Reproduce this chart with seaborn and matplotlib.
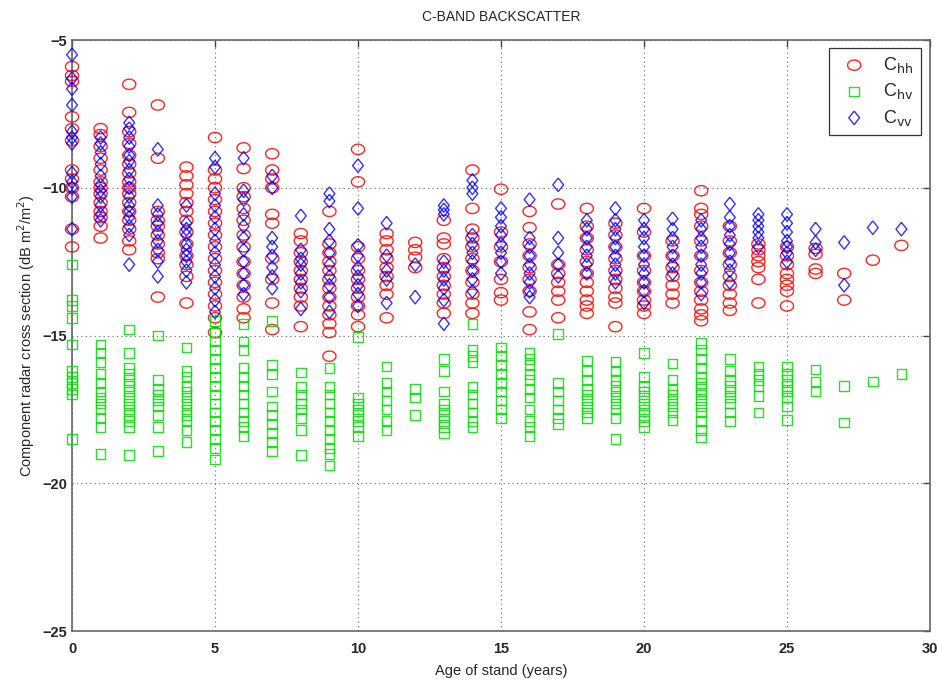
import numpy as np
import pandas as pd
import seaborn as sns
import matplotlib
matplotlib.use("Agg")
import matplotlib.pyplot as plt

sns.set_style("white")
plt.rcParams['font.family'] = ['Liberation Sans', 'DejaVu Sans']

# stand ages (years) and readings per age, dB m^2/m^2
ages = list(range(30))

hh = [
    [-5.9, -6.2, -6.4, -7.6, -8.0, -8.4, -9.4, -9.7, -10.0, -10.3, -11.4, -12.0],
    [-8.0, -8.2, -8.6, -9.0, -9.4, -9.8, -10.0, -10.2, -10.5, -10.8, -11.0, -11.3, -11.7],
    [-6.5, -7.45, -8.1, -8.5, -8.9, -9.2, -9.5, -9.8, -10.0, -10.2, -10.5, -10.8, -11.1, -11.4, -11.8, -12.1],
    [-7.2, -9.0, -10.8, -11.1, -11.3, -11.6, -11.9, -12.2, -12.4, -13.7],
    [-9.3, -9.6, -9.9, -10.2, -10.5, -10.8, -11.1, -11.5, -11.9, -12.3, -12.6, -13.0, -13.9],
    [-8.3, -9.4, -9.7, -10.0, -10.4, -10.8, -11.2, -11.6, -12.0, -12.4, -12.8, -13.2, -13.6, -14.0, -14.4, -14.9],
    [-8.65, -9.35, -10.0, -10.3, -10.7, -11.1, -11.6, -12.0, -12.5, -12.9, -13.3, -13.7, -14.1, -14.4],
    [-8.85, -9.4, -9.7, -10.0, -10.9, -11.2, -12.4, -13.1, -13.9, -14.8],
    [-11.55, -11.8, -12.2, -12.5, -12.8, -13.1, -13.4, -13.7, -14.0, -14.7],
    [-10.8, -11.9, -12.2, -12.5, -12.8, -13.1, -13.4, -13.7, -14.0, -14.3, -14.6, -14.9, -15.7],
    [-8.7, -9.8, -12.0, -12.4, -12.8, -13.1, -13.4, -13.7, -14.0, -14.3, -14.7],
    [-11.55, -11.8, -12.1, -12.4, -12.7, -13.0, -13.3, -13.6, -14.4],
    [-11.85, -12.1, -12.35, -12.7],
    [-11.1, -11.7, -11.9, -12.4, -12.7, -13.0, -13.3, -13.6, -13.9, -14.25],
    [-9.4, -10.7, -11.4, -11.7, -12.0, -12.4, -12.8, -13.2, -13.6, -13.9, -14.25],
    [-10.05, -11.5, -12.0, -12.5, -13.1, -13.55, -13.8],
    [-10.8, -11.35, -11.9, -12.3, -12.7, -13.1, -13.5, -14.2, -14.8],
    [-10.55, -12.6, -12.9, -13.2, -13.5, -13.8, -14.4],
    [-10.7, -11.3, -11.7, -12.1, -12.5, -12.9, -13.2, -13.5, -13.8, -14.0, -14.25],
    [-11.2, -11.6, -12.0, -12.4, -12.8, -13.1, -13.4, -13.7, -13.9, -14.7],
    [-10.7, -11.5, -12.3, -12.8, -13.2, -13.5, -13.8, -14.0, -14.25],
    [-11.8, -12.3, -12.7, -13.0, -13.3, -13.6, -13.9],
    [-10.1, -10.7, -10.9, -11.3, -11.8, -12.3, -12.8, -13.2, -13.5, -13.8, -14.1, -14.3, -14.5],
    [-11.3, -11.8, -12.2, -12.6, -13.0, -13.3, -13.6, -13.9, -14.15],
    [-11.9, -12.1, -12.3, -12.5, -12.7, -13.1, -13.9],
    [-12.0, -12.3, -12.6, -12.9, -13.1, -13.3, -13.5, -14.0],
    [-12.05, -12.25, -12.75, -12.9],
    [-12.9, -13.8],
    [-12.45],
    [-11.95],
]

hv = [
    [-12.6, -13.8, -14.0, -14.4, -15.3, -16.2, -16.4, -16.6, -16.8, -17.0, -18.5],
    [-15.3, -15.6, -15.9, -16.3, -16.6, -16.9, -17.1, -17.3, -17.5, -17.8, -18.1, -19.0],
    [-14.8, -15.6, -16.1, -16.3, -16.5, -16.7, -16.9, -17.1, -17.3, -17.5, -17.7, -17.9, -18.1, -19.05],
    [-15.0, -16.5, -16.8, -17.0, -17.2, -17.4, -17.7, -18.1, -18.9],
    [-15.4, -16.2, -16.4, -16.7, -16.9, -17.1, -17.3, -17.5, -17.7, -17.9, -18.2, -18.6],
    [-14.5, -14.9, -15.2, -15.5, -15.8, -16.1, -16.4, -16.7, -17.0, -17.3, -17.6, -17.9, -18.2, -18.5, -18.8, -19.2],
    [-14.6, -15.2, -15.5, -16.1, -16.4, -16.7, -17.0, -17.3, -17.6, -17.9, -18.1, -18.4],
    [-14.5, -16.0, -16.3, -16.9, -17.4, -17.7, -18.0, -18.3, -18.6, -18.9],
    [-16.25, -16.75, -17.0, -17.3, -17.5, -17.8, -18.2, -19.05],
    [-16.1, -16.75, -17.0, -17.3, -17.6, -17.9, -18.2, -18.5, -18.8, -19.0, -19.4],
    [-15.05, -17.1, -17.3, -17.5, -17.7, -17.9, -18.1, -18.4],
    [-16.05, -16.6, -16.9, -17.2, -17.5, -17.9, -18.2],
    [-16.8, -17.1, -17.7],
    [-15.8, -16.2, -16.9, -17.3, -17.5, -17.7, -17.9, -18.1, -18.3],
    [-14.6, -15.5, -15.7, -15.9, -16.75, -17.0, -17.3, -17.6, -17.9, -18.1],
    [-15.4, -15.7, -16.0, -16.3, -16.6, -16.9, -17.2, -17.5, -17.8],
    [-15.6, -15.8, -16.0, -16.3, -16.5, -16.8, -17.1, -17.5, -17.9, -18.1, -18.4],
    [-14.95, -16.6, -16.9, -17.2, -17.5, -17.8, -18.0],
    [-15.85, -16.2, -16.5, -16.8, -17.0, -17.2, -17.4, -17.6, -17.8],
    [-15.9, -16.2, -16.5, -16.7, -16.9, -17.1, -17.3, -17.5, -17.8, -18.5],
    [-15.6, -16.4, -16.7, -16.9, -17.1, -17.3, -17.5, -17.7, -17.9, -18.1],
    [-15.95, -16.5, -16.8, -17.0, -17.2, -17.4, -17.6, -17.85],
    [-15.25, -15.5, -15.8, -16.1, -16.4, -16.6, -16.8, -17.0, -17.2, -17.4, -17.6, -17.9, -18.2, -18.45],
    [-15.8, -16.2, -16.5, -16.7, -16.9, -17.1, -17.3, -17.6, -17.9],
    [-16.05, -16.3, -16.5, -16.7, -17.05, -17.6],
    [-16.05, -16.3, -16.5, -16.7, -16.9, -17.1, -17.4, -17.85],
    [-16.15, -16.55, -16.9],
    [-16.7, -17.95],
    [-16.55],
    [-16.3],
]

vv = [
    [-5.5, -6.3, -6.65, -7.2, -8.1, -8.3, -8.5, -9.5, -9.8, -10.0, -10.3, -11.4],
    [-8.3, -8.5, -8.8, -9.2, -9.6, -9.9, -10.1, -10.3, -10.6, -10.9, -11.1],
    [-7.8, -8.0, -8.3, -8.6, -8.9, -9.1, -9.4, -9.7, -10.0, -10.3, -10.6, -10.8, -11.0, -11.3, -11.6, -12.6],
    [-8.7, -10.6, -10.9, -11.2, -11.5, -11.8, -12.1, -12.5, -13.0],
    [-10.6, -11.2, -11.4, -11.6, -11.9, -12.1, -12.3, -12.5, -12.8, -13.2],
    [-9.0, -9.3, -10.2, -10.6, -11.0, -11.4, -11.8, -12.2, -12.6, -13.0, -13.4, -13.8, -14.2],
    [-9.0, -10.1, -10.4, -10.9, -11.3, -11.7, -12.1, -12.5, -12.9, -13.3, -13.6],
    [-9.6, -10.0, -11.7, -12.0, -12.3, -12.7, -13.0, -13.4],
    [-10.95, -12.1, -12.4, -12.6, -12.9, -13.2, -13.5, -14.1],
    [-10.2, -10.45, -11.4, -11.8, -12.2, -12.6, -13.0, -13.3, -13.7, -14.2],
    [-9.25, -10.7, -11.95, -12.3, -12.7, -13.0, -13.3, -13.6, -14.0],
    [-11.2, -12.3, -12.8, -13.1, -13.9],
    [-12.6, -13.7],
    [-10.6, -10.75, -10.9, -12.5, -12.8, -13.1, -13.4, -13.8, -14.6],
    [-9.75, -10.0, -10.2, -11.6, -11.9, -12.2, -12.5, -12.8, -13.1, -13.5],
    [-10.7, -11.0, -11.3, -11.6, -11.9, -12.2, -12.5, -12.9],
    [-10.4, -11.7, -12.0, -12.3, -12.6, -12.9, -13.2, -13.5, -13.7],
    [-9.9, -11.7, -12.2, -12.6, -13.0],
    [-11.1, -11.4, -11.7, -12.0, -12.3, -12.6, -12.9],
    [-10.7, -11.1, -11.4, -11.7, -12.0, -12.3, -12.6, -12.9, -13.2],
    [-11.1, -11.4, -11.7, -12.0, -12.3, -12.6, -12.9, -13.2, -13.5, -13.9],
    [-11.05, -11.4, -11.7, -12.0, -12.3, -12.6, -12.9],
    [-11.1, -11.4, -11.7, -12.0, -12.3, -12.6, -12.9, -13.2, -13.6],
    [-10.55, -11.0, -11.3, -11.6, -11.9, -12.2, -12.5, -12.8, -13.2],
    [-10.9, -11.1, -11.3, -11.5, -11.7, -12.0],
    [-10.9, -11.2, -11.5, -11.8, -12.0, -12.2, -12.5],
    [-11.4, -11.85, -12.1],
    [-11.85, -13.3],
    [-11.35],
    [-11.4],
]

labels = [r'C$_{\mathrm{hh}}$', r'C$_{\mathrm{hv}}$', r'C$_{\mathrm{vv}}$']


def to_frame(per_age):
    rows = [(a, v) for a, vals in zip(ages, per_age) for v in vals]
    return pd.DataFrame(rows, columns=["age", "db"])


# marker shapes (matlab style: slightly squashed circle, tall diamond)
t = np.linspace(0, 2 * np.pi, 40)
ellipse = np.column_stack([np.cos(t), 0.78 * np.sin(t)])
diamond = [(0, 1), (0.8, 0), (0, -1), (-0.8, 0), (0, 1)]

fig = plt.figure(figsize=(9.39, 6.85), dpi=100)
ax = fig.add_axes([0.0767, 0.0788, 0.9137, 0.8628])

sns.scatterplot(data=to_frame(hh), x="age", y="db", ax=ax, marker=ellipse, s=90,
                color="#ff0000", facecolor="none", edgecolor="#ff0000", linewidth=1.0,
                alpha=0.85, label=labels[0], clip_on=False, zorder=3)
sns.scatterplot(data=to_frame(hv), x="age", y="db", ax=ax, marker="s", s=48,
                color="#00dd00", facecolor="none", edgecolor="#00dd00", linewidth=1.0,
                alpha=0.85, label=labels[1], clip_on=False, zorder=3)
sns.scatterplot(data=to_frame(vv), x="age", y="db", ax=ax, marker=diamond, s=95,
                color="#0000ff", facecolor="none", edgecolor="#0000ff", linewidth=1.0,
                alpha=0.8, label=labels[2], clip_on=False, zorder=3)

ax.set_xlim(0, 30)
ax.set_ylim(-25, -5)
ax.set_xticks([0, 5, 10, 15, 20, 25, 30])
ax.set_yticks([-25, -20, -15, -10, -5])
ax.grid(True, linestyle=(0, (1, 3)), color="#666666", linewidth=0.8)
ax.tick_params(direction="in", top=True, right=True, length=5, width=1,
               color="#444444", labelsize=10.5)
ax.tick_params(axis="x", pad=8)
for lab in ax.get_xticklabels() + ax.get_yticklabels():
    lab.set_fontweight("bold")
for sp in ax.spines.values():
    sp.set_color("#666666")
    sp.set_linewidth(1.2)

ax.set_title("C-BAND BACKSCATTER", fontsize=10, pad=14)
ax.set_xlabel("Age of stand (years)", fontsize=10.5, labelpad=6)
ax.set_ylabel(r"Component radar cross section (dB m$^2$/m$^2$)", fontsize=10.5)

leg = ax.legend(loc="upper right", bbox_to_anchor=(0.989, 0.987), borderaxespad=0,
                fancybox=False, edgecolor="black", fontsize=13, labelspacing=0.35,
                handletextpad=0.6, borderpad=0.4)
leg.get_frame().set_linewidth(0.9)
leg.set_zorder(5)

fig.savefig("out.png", dpi=100)
